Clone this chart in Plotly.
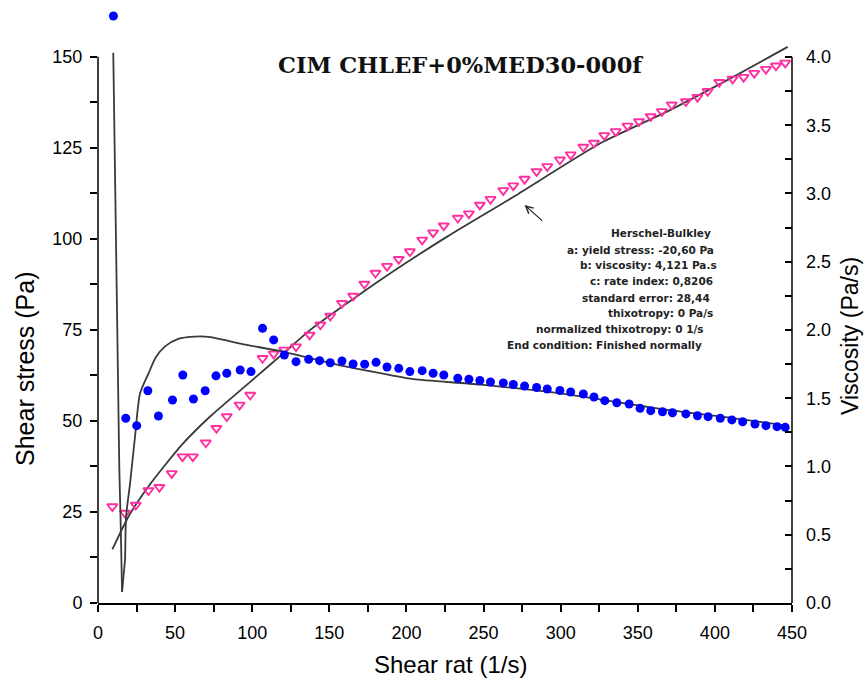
import plotly.graph_objects as go

# Measured shear stress (Pa) vs shear rate (1/s)
stress_rate = [9.3, 17.5, 24.5, 32.7, 39.8, 47.8, 54.8, 61.5, 69.9, 76.8, 83.5, 91.8, 98.7,
               106.7, 113.9, 120.8, 128.4, 137.2, 144.2, 150.6, 158.2, 165.4, 172.7, 179.9,
               187.4, 195.0, 202.2, 210.2, 217.3, 224.2, 233.3, 240.5, 247.6, 254.5, 262.8,
               269.3, 276.6, 284.4, 291.3, 299.5, 306.5, 314.7, 321.6, 328.3, 335.7, 343.3,
               350.8, 358.4, 365.6, 372.0, 381.2, 388.7, 395.3, 402.8, 411.5, 418.6, 425.5,
               433.1, 439.6, 445.6]
stress = [26.5, 24.7, 26.9, 30.9, 31.8, 35.6, 40.2, 40.2, 44.0, 48.0, 51.2, 54.4, 57.1,
          67.2, 68.4, 69.5, 70.4, 73.6, 76.4, 78.8, 82.3, 84.3, 87.6, 90.6,
          92.5, 94.4, 96.5, 99.7, 101.7, 103.6, 105.7, 106.9, 109.3, 110.9, 113.3,
          114.6, 116.4, 118.5, 119.9, 121.7, 123.1, 125.2, 126.3, 128.4, 129.5, 131.0,
          132.2, 133.6, 135.0, 136.8, 137.7, 138.9, 140.5, 143.0, 143.9, 144.4, 145.5,
          146.6, 147.5, 148.3]

# Measured viscosity (Pa/s) vs shear rate (1/s)
visc_rate = [10.0, 18.0, 25.1, 32.3, 39.2, 48.3, 55.0, 61.9, 69.5, 76.5, 83.5, 92.2, 99.2,
             106.7, 113.9, 120.8, 128.4, 136.6, 143.7, 150.6, 158.2, 165.4, 172.9, 180.3,
             187.4, 195.0, 202.2, 210.2, 217.3, 224.2, 233.3, 240.5, 247.6, 254.5, 262.8,
             269.3, 276.6, 284.4, 291.3, 299.5, 306.5, 314.7, 321.6, 328.6, 336.4, 344.4,
             351.5, 358.4, 366.0, 372.5, 381.2, 388.7, 395.6, 403.5, 411.0, 418.0, 426.0,
             433.1, 440.3, 445.6]
viscosity = [4.30, 1.353, 1.299, 1.555, 1.370, 1.487, 1.670, 1.494, 1.555, 1.664, 1.683, 1.707, 1.695,
             2.012, 1.927, 1.817, 1.768, 1.785, 1.775, 1.760, 1.773, 1.751, 1.749, 1.763,
             1.729, 1.719, 1.695, 1.702, 1.683, 1.670, 1.646, 1.639, 1.630, 1.619, 1.612,
             1.601, 1.590, 1.579, 1.568, 1.557, 1.546, 1.531, 1.509, 1.482, 1.467, 1.458,
             1.426, 1.409, 1.401, 1.394, 1.385, 1.372, 1.365, 1.353, 1.341, 1.328, 1.311,
             1.299, 1.292, 1.287]

# Herschel-Bulkley fitted curves
fit_stress_rate = [9.3, 19.7, 32.7, 54.3, 72.7, 98.7, 120.3, 137.7, 183.1, 226.4, 269.7,
                   326.0, 369.3, 412.5, 447.2]
fit_stress = [14.7, 23.7, 32.0, 43.4, 51.2, 60.7, 68.6, 75.0, 88.7, 100.6, 111.6,
              126.3, 135.0, 144.6, 152.7]

# steep drop of the fitted viscosity at low shear rate
fit_drop_rate = [9.9, 10.5, 11.6, 12.7, 13.8, 14.8, 15.6]
fit_drop_visc = [4.03, 3.575, 2.586, 1.766, 0.996, 0.535, 0.081]
# rise, maximum and shear-thinning tail of the fitted viscosity
fit_tail_rate = [15.6, 16.6, 17.5, 18.2, 20.8, 24.0, 27.3, 32.7, 37.5, 43.5, 52.0, 63.0,
                 73.0, 82.5, 94.4, 116.0, 137.7, 159.3, 189.6, 204.5, 248.0, 300.0, 326.0,
                 369.3, 412.5, 447.0]
fit_tail_visc = [0.081, 0.205, 0.315, 0.632, 0.877, 1.218, 1.536, 1.68, 1.80, 1.88, 1.935, 1.952,
                 1.948, 1.925, 1.895, 1.85, 1.793, 1.735, 1.67, 1.64, 1.60, 1.535, 1.49,
                 1.414, 1.353, 1.30]

# Axis ticks (unlabelled entries are minor ticks)
x_tickvals = [i * 25 for i in range(19)]
x_ticktext = [str(v) if v % 50 == 0 else "" for v in x_tickvals]
y_tickvals = [i * 12.5 for i in range(13)]
y_ticktext = [str(int(v)) if v % 25 == 0 else "" for v in y_tickvals]
y2_tickvals = [i * 0.25 for i in range(17)]
y2_ticktext = [f"{v:.1f}" if (v * 2) % 1 == 0 else "" for v in y2_tickvals]

fit_info = [
    "Herschel-Bulkley",
    "a: yield stress: -20,60 Pa",
    "b: viscosity: 4,121 Pa.s",
    "c: rate index: 0,8206",
    "standard error: 28,44",
    "thixotropy: 0 Pa/s",
    "normalized thixotropy: 0 1/s",
    "End condition: Finished normally",
]

FONT = "Liberation Sans, Arial, sans-serif"
Y_MAX = 162.0
Y2_MAX = 4.322
W, H = 865, 685
ML, MR, MT, MB = 98, 73, 13, 82
PW, PH = W - ML - MR, H - MT - MB


def px_x(p):
    return (p - ML) / PW


def px_y(p):
    return (H - MB - p) / PH


fig = go.Figure()

fit_line = dict(color="#3a3a3a", width=1.8)
fig.add_trace(go.Scatter(
    x=fit_stress_rate, y=fit_stress, mode="lines",
    line=dict(fit_line, shape="spline", smoothing=0.6), hoverinfo="skip"))
fig.add_trace(go.Scatter(
    x=fit_drop_rate, y=fit_drop_visc, mode="lines", yaxis="y2",
    line=fit_line, hoverinfo="skip"))
fig.add_trace(go.Scatter(
    x=fit_tail_rate, y=fit_tail_visc, mode="lines", yaxis="y2",
    line=dict(fit_line, shape="spline", smoothing=0.7), hoverinfo="skip"))
fig.add_trace(go.Scatter(
    x=stress_rate, y=stress, mode="markers", cliponaxis=False,
    marker=dict(symbol="triangle-down-open", size=9, color="#ff2fa0",
                line=dict(width=1.9, color="#ff2fa0"))))
fig.add_trace(go.Scatter(
    x=visc_rate, y=viscosity, mode="markers", yaxis="y2", cliponaxis=False,
    marker=dict(symbol="circle", size=9, color="#0000ff")))

tick_font = dict(family=FONT, size=18, color="black")

fig.update_layout(
    width=W, height=H,
    margin=dict(l=ML, r=MR, t=MT, b=MB),
    paper_bgcolor="white", plot_bgcolor="white",
    showlegend=False,
    xaxis=dict(range=[0, 450], tickvals=x_tickvals, ticktext=x_ticktext,
               ticks="outside", ticklen=7, tickwidth=1.5, tickcolor="black",
               showline=True, linecolor="black", linewidth=1.5,
               showgrid=False, zeroline=False, tickfont=tick_font,
               ticklabelstandoff=6),
    yaxis=dict(range=[0, Y_MAX], tickvals=y_tickvals, ticktext=y_ticktext,
               ticks="outside", ticklen=7, tickwidth=1.5, tickcolor="black",
               showline=False, showgrid=False, zeroline=False, tickfont=tick_font,
               ticklabelstandoff=4),
    yaxis2=dict(range=[0, Y2_MAX], tickvals=y2_tickvals, ticktext=y2_ticktext,
                overlaying="y", side="right",
                ticks="inside", ticklen=7, tickwidth=1.5, tickcolor="black",
                showline=False, showgrid=False, zeroline=False, tickfont=tick_font,
                ticklabelstandoff=13),
)

# Axis spines (left stops at 150 Pa, right stops at 4.0 Pa/s)
fig.add_shape(type="line", xref="paper", yref="paper", x0=0, x1=0, y0=0, y1=150 / Y_MAX,
              line=dict(color="black", width=1.5))
fig.add_shape(type="line", xref="paper", yref="paper", x0=1, x1=1, y0=0, y1=4.0 / Y2_MAX,
              line=dict(color="black", width=1.5))

ann = []
ann.append(dict(text="<b>CIM CHLEF+0%MED30-000f</b>", xref="paper", yref="paper",
                x=px_x(460), y=px_y(65), xanchor="center", yanchor="middle", showarrow=False,
                font=dict(family="DejaVu Serif, serif", size=22.5, color="#111")))
ann.append(dict(text="Shear stress (Pa)", xref="paper", yref="paper", x=px_x(25), y=px_y(369),
                textangle=-90, xanchor="center", yanchor="middle", showarrow=False,
                font=dict(family=FONT, size=25, color="black")))
ann.append(dict(text="Viscosity (Pa/s)", xref="paper", yref="paper", x=px_x(850), y=px_y(336),
                textangle=-90, xanchor="center", yanchor="middle", showarrow=False,
                font=dict(family=FONT, size=23, color="black")))
ann.append(dict(text="Shear rat (1/s)", xref="paper", yref="paper", x=px_x(450), y=px_y(665),
                xanchor="center", yanchor="middle", showarrow=False,
                font=dict(family=FONT, size=24, color="black")))

info_right = [713, 716, 719, 715, 712, 715, 706, 704]
info_y = [233, 250, 265, 281, 298, 313, 329, 345]
for line, xr, yc in zip(fit_info, info_right, info_y):
    ann.append(dict(text=f"<b>{line}</b>", xref="paper", yref="paper",
                    x=px_x(xr), y=px_y(yc), xanchor="right", yanchor="middle",
                    showarrow=False, font=dict(family="DejaVu Sans, sans-serif", size=10.5,
                                               color="#222")))

# Pointer to the fitted stress curve
ann.append(dict(text="", x=276.6, y=109.3, xref="x", yref="y", showarrow=True,
                ax=19, ay=17, arrowhead=5, arrowsize=1.2, arrowwidth=1.2, arrowcolor="#222"))

fig.update_layout(annotations=ann)

fig.write_html("out.html")
